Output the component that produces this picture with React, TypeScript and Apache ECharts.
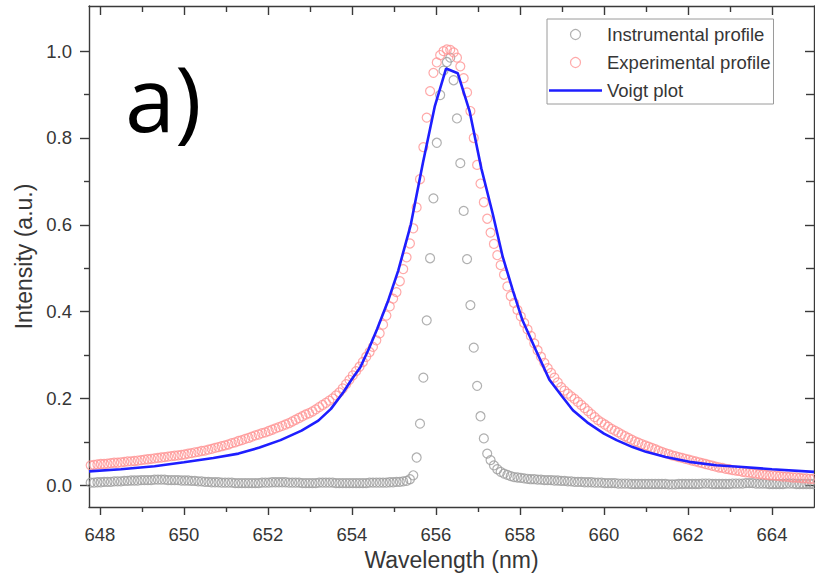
import React, { useEffect, useRef } from "react";
import * as echarts from "echarts";

// Sampling grid of the measured profiles (nm)
const wavelengthStart = 647.78;
const wavelengthStep = 0.08;

// Instrumental profile (grey circles), one value per grid point
const instrumental = [
  0.006, 0.006, 0.007, 0.007, 0.008, 0.008, 0.008, 0.009, 0.009, 0.009,
  0.010, 0.010, 0.011, 0.011, 0.011, 0.012, 0.012, 0.012, 0.012, 0.013,
  0.013, 0.013, 0.013, 0.012, 0.012, 0.012, 0.012, 0.011, 0.011, 0.011,
  0.010, 0.010, 0.009, 0.009, 0.008, 0.008, 0.007, 0.007, 0.007, 0.006,
  0.006, 0.006, 0.006, 0.005, 0.005, 0.005, 0.005, 0.005, 0.005, 0.005,
  0.005, 0.006, 0.006, 0.006, 0.007, 0.007, 0.007, 0.007, 0.007, 0.006,
  0.006, 0.006, 0.006, 0.005, 0.005, 0.005, 0.005, 0.005, 0.006, 0.006,
  0.006, 0.006, 0.006, 0.005, 0.005, 0.005, 0.005, 0.005, 0.005, 0.005,
  0.005, 0.005, 0.005, 0.006, 0.006, 0.006, 0.006, 0.006, 0.006, 0.007,
  0.007, 0.008, 0.008, 0.009, 0.010, 0.014, 0.023, 0.064, 0.142, 0.248,
  0.380, 0.523, 0.661, 0.789, 0.899, 0.955, 0.975, 0.985, 0.933, 0.845,
  0.742, 0.632, 0.521, 0.415, 0.317, 0.229, 0.159, 0.108, 0.073, 0.058,
  0.046, 0.037, 0.031, 0.027, 0.024, 0.021, 0.019, 0.018, 0.017, 0.016,
  0.015, 0.014, 0.014, 0.013, 0.013, 0.012, 0.012, 0.012, 0.011, 0.011,
  0.010, 0.010, 0.009, 0.009, 0.008, 0.008, 0.008, 0.007, 0.007, 0.007,
  0.006, 0.006, 0.006, 0.005, 0.005, 0.005, 0.005, 0.004, 0.004, 0.004,
  0.004, 0.003, 0.003, 0.003, 0.003, 0.003, 0.003, 0.003, 0.003, 0.003,
  0.003, 0.003, 0.002, 0.002, 0.002, 0.003, 0.003, 0.003, 0.003, 0.003,
  0.003, 0.003, 0.004, 0.004, 0.004, 0.003, 0.003, 0.003, 0.003, 0.003,
  0.003, 0.004, 0.004, 0.004, 0.004, 0.005, 0.005, 0.005, 0.004, 0.004,
  0.004, 0.004, 0.003, 0.003, 0.003, 0.003, 0.003, 0.004, 0.004, 0.004,
  0.003, 0.003, 0.003, 0.003, 0.003, 0.003,
];

// Experimental profile (red circles), one value per grid point
const experimental = [
  0.046, 0.047, 0.048, 0.049, 0.049, 0.050, 0.051, 0.052, 0.052, 0.053,
  0.054, 0.055, 0.055, 0.056, 0.057, 0.058, 0.059, 0.060, 0.061, 0.062,
  0.063, 0.064, 0.065, 0.066, 0.067, 0.068, 0.069, 0.070, 0.071, 0.073,
  0.074, 0.076, 0.077, 0.079, 0.080, 0.082, 0.084, 0.086, 0.088, 0.090,
  0.092, 0.094, 0.097, 0.099, 0.102, 0.104, 0.107, 0.109, 0.112, 0.115,
  0.117, 0.120, 0.122, 0.125, 0.128, 0.131, 0.134, 0.137, 0.140, 0.143,
  0.147, 0.151, 0.155, 0.159, 0.163, 0.166, 0.170, 0.175, 0.180, 0.185,
  0.190, 0.195, 0.200, 0.207, 0.214, 0.223, 0.233, 0.243, 0.253, 0.263,
  0.273, 0.284, 0.296, 0.307, 0.319, 0.334, 0.350, 0.370, 0.391, 0.412,
  0.430, 0.445, 0.470, 0.498, 0.525, 0.557, 0.592, 0.640, 0.705, 0.779,
  0.847, 0.908, 0.950, 0.974, 0.991, 1.000, 1.004, 1.003, 0.997, 0.985,
  0.965, 0.938, 0.905, 0.862, 0.800, 0.738, 0.695, 0.652, 0.614, 0.582,
  0.556, 0.530, 0.507, 0.485, 0.458, 0.436, 0.420, 0.404, 0.389, 0.374,
  0.359, 0.344, 0.327, 0.311, 0.296, 0.282, 0.270, 0.259, 0.248, 0.237,
  0.226, 0.218, 0.211, 0.205, 0.199, 0.192, 0.185, 0.178, 0.171, 0.164,
  0.157, 0.150, 0.145, 0.140, 0.135, 0.130, 0.126, 0.122, 0.117, 0.113,
  0.109, 0.105, 0.101, 0.098, 0.095, 0.092, 0.089, 0.086, 0.083, 0.080,
  0.077, 0.074, 0.072, 0.069, 0.067, 0.065, 0.063, 0.061, 0.059, 0.057,
  0.055, 0.053, 0.051, 0.049, 0.047, 0.045, 0.043, 0.041, 0.040, 0.038,
  0.037, 0.035, 0.034, 0.033, 0.031, 0.030, 0.029, 0.028, 0.027, 0.026,
  0.025, 0.024, 0.023, 0.023, 0.022, 0.021, 0.020, 0.020, 0.019, 0.018,
  0.018, 0.017, 0.016, 0.016, 0.015, 0.015,
];

// Voigt fit (blue line)
const voigtWavelength = [
  647.74, 648.5, 649.3, 650.0, 650.7, 651.3, 651.8, 652.3, 652.8, 653.2,
  653.5, 653.8, 654.0, 654.2, 654.4, 654.6, 654.85, 655.1, 655.4, 655.69,
  655.97, 656.24, 656.52, 656.8, 657.08, 657.35, 657.59, 657.83, 658.06, 658.38,
  658.7, 659.0, 659.26, 659.6, 660.0, 660.3, 660.68, 661.0, 661.47, 662.03,
  662.67, 663.3, 664.0, 665.0,
];
const voigtIntensity = [
  0.032, 0.037, 0.044, 0.053, 0.063, 0.073, 0.087, 0.104, 0.126, 0.149,
  0.176, 0.215, 0.245, 0.272, 0.314, 0.36, 0.422, 0.494, 0.6, 0.743,
  0.872, 0.96, 0.949, 0.862, 0.73, 0.626, 0.526, 0.449, 0.38, 0.311,
  0.243, 0.205, 0.173, 0.145, 0.119, 0.104, 0.088, 0.077, 0.065, 0.054,
  0.046, 0.042, 0.037, 0.031,
];

const xMajorTicks = [648, 650, 652, 654, 656, 658, 660, 662, 664];
const xMinorTicks = [649, 651, 653, 655, 657, 659, 661, 663];
const yMajorTicks = [0, 0.2, 0.4, 0.6, 0.8, 1.0];
const yMinorTicks = [0.1, 0.3, 0.5, 0.7, 0.9];

const X_MIN = 647.74;
const X_MAX = 665;
const Y_MIN = -0.05;
const Y_MAX = 1.104;

const FONT = "'Liberation Sans', Arial, sans-serif";
const AXIS_COLOR = "#3a3a3a";
const TEXT_COLOR = "#363636";
const GREY = "#9c9c9c";
const PINK = "#ff9494";
const BLUE = "#1e1eff";

function xAxisDef(
  position: "top" | "bottom",
  ticks: number[],
  length: number,
  inside: boolean,
  main: boolean,
  labels: boolean
) {
  return {
    type: "value",
    position,
    min: X_MIN,
    max: X_MAX,
    axisLine: { show: main, onZero: false, lineStyle: { color: AXIS_COLOR, width: 1.4 } },
    axisTick: {
      show: true,
      inside,
      length,
      customValues: ticks,
      lineStyle: { color: AXIS_COLOR, width: 1.4 },
    },
    axisLabel: labels
      ? {
          show: true,
          customValues: ticks,
          margin: 18,
          fontSize: 18.5,
          color: TEXT_COLOR,
          fontFamily: FONT,
          formatter: (v: number) => String(Math.round(v)),
        }
      : { show: false },
    splitLine: { show: false },
    ...(labels
      ? {
          name: "Wavelength (nm)",
          nameLocation: "middle",
          nameGap: 39,
          nameTextStyle: { fontSize: 23, color: TEXT_COLOR, fontFamily: FONT },
        }
      : {}),
  };
}

function yAxisDef(
  position: "left" | "right",
  ticks: number[],
  length: number,
  inside: boolean,
  main: boolean,
  labels: boolean
) {
  return {
    type: "value",
    position,
    min: Y_MIN,
    max: Y_MAX,
    axisLine: { show: main, onZero: false, lineStyle: { color: AXIS_COLOR, width: 1.4 } },
    axisTick: {
      show: true,
      inside,
      length,
      customValues: ticks,
      lineStyle: { color: AXIS_COLOR, width: 1.4 },
    },
    axisLabel: labels
      ? {
          show: true,
          customValues: ticks,
          margin: 17,
          fontSize: 18.5,
          color: TEXT_COLOR,
          fontFamily: FONT,
          formatter: (v: number) => v.toFixed(1),
        }
      : { show: false },
    splitLine: { show: false },
    ...(labels
      ? {
          name: "Intensity (a.u.)",
          nameLocation: "middle",
          nameGap: 51,
          nameTextStyle: { fontSize: 23, color: TEXT_COLOR, fontFamily: FONT },
        }
      : {}),
  };
}

export default function App() {
  const ref = useRef<HTMLDivElement>(null);

  useEffect(() => {
    if (!ref.current) return;
    const chart = echarts.init(ref.current, null, { renderer: "svg" });

    const instrumentalData = instrumental.map((v, i) => [
      +(wavelengthStart + i * wavelengthStep).toFixed(2),
      v,
    ]);
    const experimentalData = experimental.map((v, i) => [
      +(wavelengthStart + i * wavelengthStep).toFixed(2),
      v,
    ]);
    const voigtData = voigtWavelength.map((w, i) => [w, voigtIntensity[i]]);

    chart.setOption({
      animation: false,
      backgroundColor: "#ffffff",
      grid: { left: 89, right: 1, top: 6, bottom: 71, containLabel: false },
      xAxis: [
        xAxisDef("bottom", xMajorTicks, 8, false, true, true),
        xAxisDef("bottom", xMinorTicks, 5, false, false, false),
        xAxisDef("top", xMajorTicks, 9, true, true, false),
        xAxisDef("top", xMinorTicks, 6, true, false, false),
      ],
      yAxis: [
        yAxisDef("left", yMajorTicks, 9, false, true, true),
        yAxisDef("left", yMinorTicks, 5, false, false, false),
        yAxisDef("right", yMajorTicks, 9, true, true, false),
        yAxisDef("right", yMinorTicks, 8, true, false, false),
      ],
      legend: {
        orient: "vertical",
        left: 547,
        top: 19,
        padding: [6, 3, 4, 2],
        itemGap: 9,
        itemWidth: 53,
        itemHeight: 10,
        borderColor: "#9a9a9a",
        borderWidth: 1,
        backgroundColor: "#ffffff",
        textStyle: { fontSize: 18.5, color: TEXT_COLOR, fontFamily: FONT },
        data: [
          {
            name: "Instrumental profile",
            icon: "circle",
            itemStyle: { color: "rgba(0,0,0,0)", borderColor: GREY, borderWidth: 1.2 },
          },
          {
            name: "Experimental profile",
            icon: "circle",
            itemStyle: { color: "rgba(0,0,0,0)", borderColor: PINK, borderWidth: 1.2 },
          },
          {
            name: "Voigt plot",
            icon: "path://M0,0 L53,0 L53,2.6 L0,2.6 Z",
            itemStyle: { color: BLUE, borderWidth: 0 },
          },
        ],
      },
      graphic: [
        {
          type: "text",
          x: 125,
          y: 97,
          style: {
            text: "a)",
            fontSize: 90,
            fontFamily: "'Open Sans', 'DejaVu Sans', sans-serif",
            fill: "#000000",
            verticalAlign: "middle",
          },
        },
      ],
      series: [
        {
          type: "scatter",
          name: "Instrumental profile",
          xAxisIndex: 0,
          yAxisIndex: 0,
          data: instrumentalData,
          symbol: "circle",
          symbolSize: 9,
          itemStyle: { color: "rgba(0,0,0,0)", borderColor: GREY, borderWidth: 1.2 },
          silent: true,
        },
        {
          type: "scatter",
          name: "Experimental profile",
          xAxisIndex: 0,
          yAxisIndex: 0,
          data: experimentalData,
          symbol: "circle",
          symbolSize: 9,
          itemStyle: { color: "rgba(0,0,0,0)", borderColor: PINK, borderWidth: 1.2 },
          silent: true,
        },
        {
          type: "line",
          name: "Voigt plot",
          xAxisIndex: 0,
          yAxisIndex: 0,
          data: voigtData,
          showSymbol: false,
          symbol: "none",
          lineStyle: { color: BLUE, width: 2.6 },
          itemStyle: { color: BLUE },
          silent: true,
        },
      ],
    });

    return () => chart.dispose();
  }, []);

  return (
    <div
      ref={ref}
      style={{ position: "fixed", left: 0, top: 0, width: 815, height: 578, background: "#fff" }}
    />
  );
}
